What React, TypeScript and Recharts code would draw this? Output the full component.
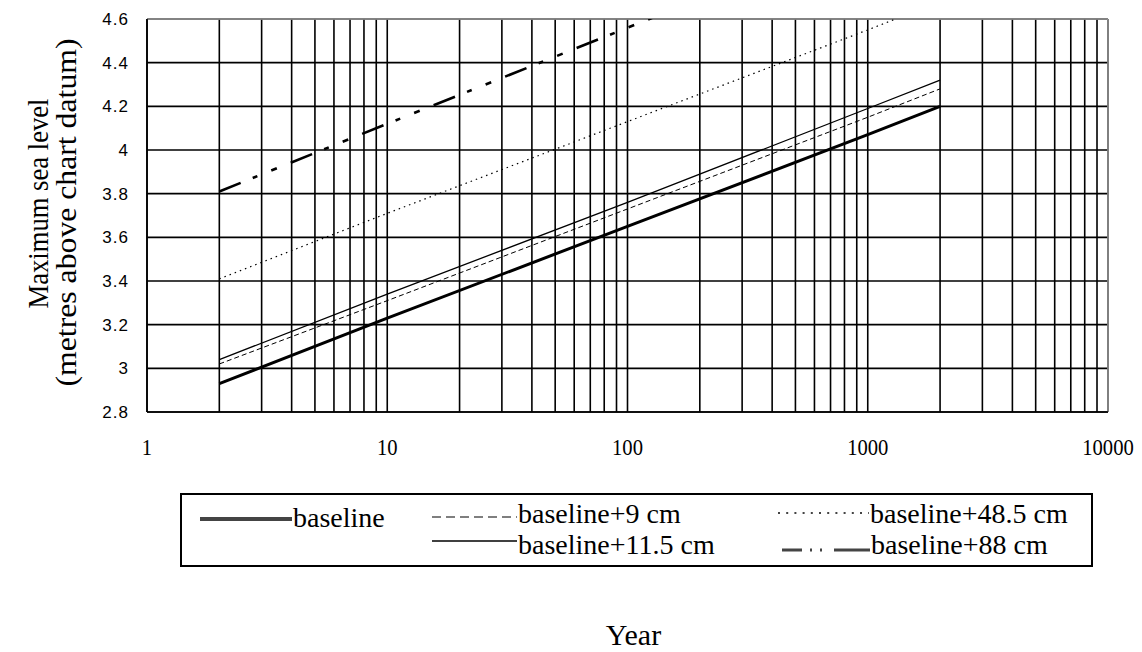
import { CartesianGrid, Label, Legend, Line, LineChart, ReferenceLine, XAxis, YAxis } from 'recharts'

const years = [2, 10, 100, 1000, 2000]
const baseline = [2.93, 3.23, 3.65, 4.07, 4.2]
const plus9 = [3.02, 3.31, 3.73, 4.15, 4.28]
const plus115 = [3.04, 3.34, 3.76, 4.19, 4.32]
const plus485 = [3.41, 3.71, 4.13, 4.55, 4.68]
const plus88 = [3.81, 4.12, 4.56, 5.0, 5.14]

const yearTicks = [
  1, 2, 3, 4, 5, 6, 7, 8, 9, 10, 20, 30, 40, 50, 60, 70, 80, 90, 100, 200, 300, 400, 500, 600, 700,
  800, 900, 1000, 2000, 3000, 4000, 5000, 6000, 7000, 8000, 9000, 10000,
]
const levelTicks = [2.8, 3, 3.2, 3.4, 3.6, 3.8, 4, 4.2, 4.4, 4.6]

const SERIF = '"Liberation Serif", "Times New Roman", serif'
const SANS = '"Liberation Sans", Arial, sans-serif'

const data = years.map((year, i) => ({
  year,
  baseline: baseline[i],
  plus9: plus9[i],
  plus115: plus115[i],
  plus485: plus485[i],
  plus88: plus88[i],
}))

interface SeriesDef {
  key: string
  name: string
  width: number
  dash?: string
  legendColor: string
  legendWidth: number
  legendDash?: string
  // legend slot, relative to the legend box
  lx: number
  len: number
  ly: number
  ty: number
}

const series: SeriesDef[] = [
  { key: 'baseline', name: 'baseline', width: 3, legendColor: '#444', legendWidth: 4, lx: 20, len: 92, ly: 26, ty: 34 },
  { key: 'plus9', name: 'baseline+9 cm', width: 1, dash: '5 3', legendColor: '#555', legendWidth: 1.5, legendDash: '9 5', lx: 252, len: 85, ly: 24, ty: 30 },
  { key: 'plus115', name: 'baseline+11.5 cm', width: 1.3, legendColor: '#000', legendWidth: 1.5, lx: 252, len: 85, ly: 48, ty: 61 },
  { key: 'plus485', name: 'baseline+48.5 cm', width: 1.2, dash: '1.5 4', legendColor: '#444', legendWidth: 2, legendDash: '2 6.2', lx: 598, len: 91, ly: 20, ty: 30 },
  { key: 'plus88', name: 'baseline+88 cm', width: 2.6, dash: '23 13 5 15 6 15', legendColor: '#444', legendWidth: 3, legendDash: '20 8 2 8 2 12 40', lx: 602, len: 88, ly: 57, ty: 61 },
]

function YearTick(props: any) {
  const { x, y, payload } = props
  const v = payload.value as number
  if (Math.abs(Math.log10(v) - Math.round(Math.log10(v))) > 1e-9) return null
  const label = String(v)
  return (
    <text
      x={x}
      y={y}
      textAnchor="middle"
      fontFamily={SERIF}
      fontSize={24}
      fill="#000"
      textLength={label.length * 10.3}
      lengthAdjust="spacingAndGlyphs"
    >
      {label}
    </text>
  )
}

function LevelTick(props: any) {
  const { x, y, payload } = props
  return (
    <text x={x} y={y} dy={6} textAnchor="end" fontFamily={SANS} fontSize={17} letterSpacing={1} fill="#000">
      {String(payload.value)}
    </text>
  )
}

function YTitle(props: any) {
  const vb = props.viewBox
  const cy = vb.y + vb.height / 2
  return (
    <g fontFamily={SERIF} fontSize={30} fill="#000">
      <text
        x={48}
        y={cy - 12}
        textAnchor="middle"
        transform={`rotate(-90, 48, ${cy - 12})`}
        textLength={210}
        lengthAdjust="spacingAndGlyphs"
      >
        Maximum sea level
      </text>
      <text
        x={76}
        y={cy - 3}
        textAnchor="middle"
        transform={`rotate(-90, 76, ${cy - 3})`}
        textLength={348}
        lengthAdjust="spacingAndGlyphs"
      >
        (metres above chart datum)
      </text>
    </g>
  )
}

function XTitle(props: any) {
  const vb = props.viewBox
  return (
    <text x={vb.x + vb.width / 2 + 6} y={645} textAnchor="middle" fontFamily={SERIF} fontSize={30} fill="#000">
      Year
    </text>
  )
}

function LegendBox() {
  return (
    <svg width={913} height={74} style={{ display: 'block' }}>
      <rect x={1} y={1} width={911} height={72} fill="#fff" stroke="#000" strokeWidth={2} />
      {series.map((s) => (
        <g key={s.key}>
          <line
            x1={s.lx}
            x2={s.lx + s.len}
            y1={s.ly}
            y2={s.ly}
            stroke={s.legendColor}
            strokeWidth={s.legendWidth}
            strokeDasharray={s.legendDash}
          />
          <text x={s.lx + s.len + 1} y={s.ty} fontFamily={SERIF} fontSize={28} fill="#000">
            {s.name}
          </text>
        </g>
      ))}
    </svg>
  )
}

export default function App() {
  return (
    <div style={{ position: 'absolute', left: 0, top: 0, width: 1142, height: 652, background: '#fff' }}>
      <LineChart width={1142} height={652} data={data} margin={{ top: 19, right: 34, left: 87, bottom: 200 }}>
        <CartesianGrid stroke="#000" strokeWidth={1.6} />
        <XAxis
          dataKey="year"
          type="number"
          scale="log"
          domain={[1, 10000]}
          ticks={yearTicks}
          allowDataOverflow
          height={40}
          tickSize={0}
          tickMargin={43}
          tick={<YearTick />}
          axisLine={{ stroke: '#000', strokeWidth: 1.6 }}
          tickLine={false}
          interval={0}
        >
          <Label content={<XTitle />} />
        </XAxis>
        <YAxis
          type="number"
          domain={[2.8, 4.6]}
          ticks={levelTicks}
          allowDataOverflow
          width={60}
          tickSize={6}
          tickMargin={12}
          tick={<LevelTick />}
          axisLine={{ stroke: '#000', strokeWidth: 1.6 }}
          tickLine={false}
          interval={0}
        >
          <Label content={<YTitle />} />
        </YAxis>
        <ReferenceLine y={4.6} stroke="#9a9a9a" strokeWidth={1.5} />
        <ReferenceLine x={10000} stroke="#9a9a9a" strokeWidth={1.5} />
        {series.map((s) => (
          <Line
            key={s.key}
            type="linear"
            dataKey={s.key}
            name={s.name}
            stroke="#000"
            strokeWidth={s.width}
            strokeDasharray={s.dash}
            dot={false}
            activeDot={false}
            isAnimationActive={false}
          />
        ))}
        <Legend
          layout="vertical"
          align="center"
          verticalAlign="middle"
          wrapperStyle={{ left: 180, top: 493, width: 913, height: 74 }}
          content={() => <LegendBox />}
        />
      </LineChart>
    </div>
  )
}
